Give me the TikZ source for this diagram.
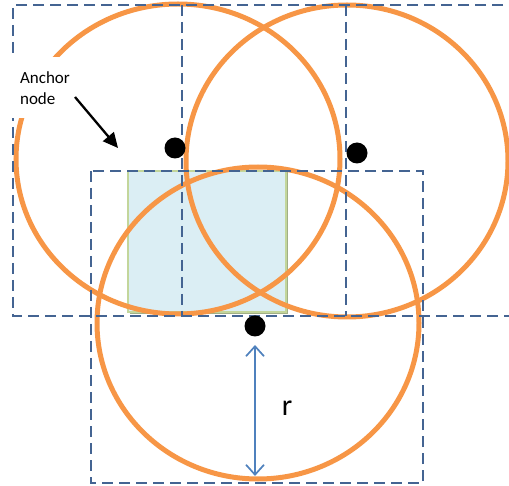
\documentclass[tikz,border=0pt]{standalone}
\usepackage{fontspec}
\setmainfont{Carlito}
\usetikzlibrary{arrows.meta}
\definecolor{ringorange}{RGB}{247,150,70}
\definecolor{gridblue}{RGB}{68,100,146}
\definecolor{sqfill}{RGB}{219,238,244}
\definecolor{sqedge}{RGB}{195,214,155}
\definecolor{sqshadow}{RGB}{160,175,135}
\definecolor{arrowblue}{RGB}{79,129,189}
\tikzset{
  grid/.style={draw=gridblue, line width=1.6pt, dash pattern=on 11pt off 6pt},
  ring/.style={draw=ringorange, line width=5pt},
  dot/.style={circle, fill=black, minimum size=21pt, inner sep=0pt},
  lbl/.style={font=\fontsize{17}{21}\selectfont, align=left, fill=white, inner sep=0pt},
}
\begin{document}
\begin{tikzpicture}[x=1pt,y=-1pt]
\useasboundingbox (0,0) rectangle (509,486);
% anchor square with shadow
\fill[sqshadow] (129.5,172.5) rectangle (288,314);
\filldraw[fill=sqfill, draw=sqedge, line width=2.5pt] (128,171) rectangle (286,312);
% circles
\draw[ring] (178,159) ellipse [x radius=162pt, y radius=155pt];
\draw[ring] (347,161) ellipse [x radius=161pt, y radius=156pt];
\draw[ring] (258,323) ellipse [x radius=161pt, y radius=156pt];
% dashed grid
\draw[grid] (520,5) -- (13,5) -- (13,316) -- (520,316);
\draw[grid] (182,5) -- (182,316);
\draw[grid] (346,5) -- (346,316);
\draw[grid] (91,171) rectangle (423,483);
% dots
\node[dot] (d1) at (175,148) {};
\node[dot] (d2) at (357,153) {};
\node[dot] (d3) at (255,326) {};
% anchor label
\node[lbl, minimum width=70pt, minimum height=61pt] (anc) at (45,88) {Anchor\\node};
\coordinate (tip) at (118,148);
\draw[line width=2.3pt, -{Triangle[length=15pt,width=14pt]}] (75,97) -- (tip);
% radius arrow
\coordinate (ra) at (255,345);
\coordinate (rb) at (255,476);
\draw[arrowblue, line width=1.7pt, {Straight Barb[length=10pt,width=18pt]}-{Straight Barb[length=10pt,width=18pt]}] (ra) -- (rb);
\node[font=\fontsize{30}{34}\selectfont, inner sep=0pt] (rl) at (287,408) {r};
\end{tikzpicture}
\end{document}
